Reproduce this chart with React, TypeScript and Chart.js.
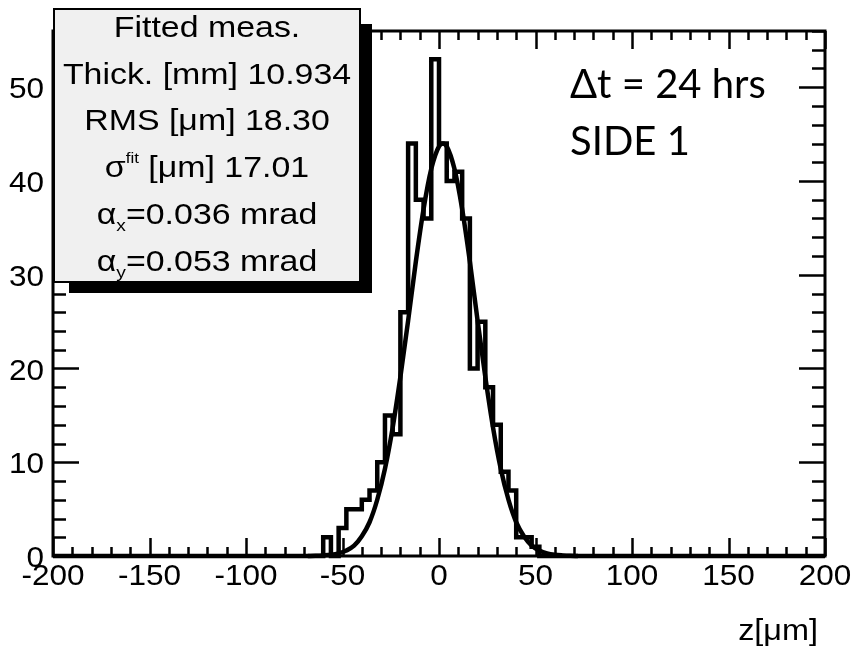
import React, { useEffect, useRef } from 'react';
import { Chart, registerables } from 'chart.js';

Chart.register(...registerables);

// ---- data ----
const xRange = [-200, 200];
const yRange = [0, 56];
const xTickLabels = ['-200', '-150', '-100', '-50', '0', '50', '100', '150', '200'];
const yTickLabels = ['0', '10', '20', '30', '40', '50'];

// histogram bin lower edges (last entry = upper edge of last bin) and counts
const binEdges = [-72, -68, -64, -60, -56, -52, -48, -44, -40, -36, -32, -28, -24, -20, -16, -12, -8, -4,
  0, 4, 8, 12, 16, 20, 24, 28, 32, 36, 40, 44, 48, 52, 56];
const binCounts = [0, 0, 0, 2, 0, 3, 5, 5, 6, 7, 10, 15, 13, 26, 44, 38, 36, 53,
  44, 40, 41, 36, 20, 25, 18, 14, 9, 7, 2, 2, 1, 0];

// fitted curve
const fitX = [-68, -64, -60, -56, -52, -48, -44, -40, -36, -32, -28, -24, -20, -16, -12, -8, -4, 0, 2,
  4, 8, 12, 16, 20, 24, 28, 32, 36, 40, 44, 48, 52, 56, 60, 64, 68, 72];
const fitY = [0.01, 0.02, 0.06, 0.13, 0.28, 0.58, 1.1, 2.1, 3.6, 6.0, 9.3, 13.7, 19.1, 25.1, 31.4, 37.0, 41.3, 43.7, 44.0,
  43.7, 41.3, 37.0, 31.4, 25.1, 19.1, 13.7, 9.3, 6.0, 3.6, 2.1, 1.1, 0.58, 0.28, 0.13, 0.06, 0.02, 0.01];

const statTitle = 'Fitted meas.';
const statThick = 'Thick. [mm] 10.934';
const statRms = 'RMS [μm] 18.30';
const statSigma = ['σ', 'fit', ' [μm] 17.01'];
const statAlphaX = ['α', 'x', '=0.036 mrad'];
const statAlphaY = ['α', 'y', '=0.053 mrad'];
const overlayLines = ['Δt = 24 hrs', 'SIDE 1'];
const xTitle = 'z[μm]';

const ROOT_FONT = '"Liberation Sans", Arial, Helvetica, sans-serif';

function drawScaled(ctx: CanvasRenderingContext2D, text: string, x: number, y: number, align: CanvasTextAlign, sx: number) {
  ctx.save();
  ctx.translate(x, y);
  ctx.scale(sx, 1);
  ctx.textAlign = align;
  ctx.fillText(text, 0, 0);
  ctx.restore();
}

type Seg = { t: string; size: number; dy: number };
function drawRich(ctx: CanvasRenderingContext2D, segs: Seg[], cx: number, y: number, sx: number) {
  let total = 0;
  const widths = segs.map((s) => {
    ctx.font = `${s.size}px ${ROOT_FONT}`;
    const w = ctx.measureText(s.t).width * sx;
    total += w;
    return w;
  });
  let px = cx - total / 2;
  segs.forEach((s, i) => {
    ctx.font = `${s.size}px ${ROOT_FONT}`;
    drawScaled(ctx, s.t, px, y + s.dy, 'left', sx);
    px += widths[i];
  });
}

const rootPlugin = {
  id: 'rootStyle',
  afterDraw(chart: any) {
    const ctx: CanvasRenderingContext2D = chart.ctx;
    const a = chart.chartArea;
    const xs = chart.scales.x;
    const ys = chart.scales.y;
    ctx.save();
    ctx.strokeStyle = '#000';
    ctx.fillStyle = '#000';

    // frame
    ctx.lineWidth = 3;
    ctx.strokeRect(a.left, a.top, a.right - a.left, a.bottom - a.top);

    // ticks
    ctx.lineWidth = 2.5;
    ctx.beginPath();
    for (let v = xRange[0]; v <= xRange[1]; v += 10) {
      const px = Math.round(xs.getPixelForValue(v)) + 0.5;
      const len = v % 50 === 0 ? 18 : 9;
      ctx.moveTo(px, a.bottom); ctx.lineTo(px, a.bottom - len);
      ctx.moveTo(px, a.top); ctx.lineTo(px, a.top + len);
    }
    for (let v = yRange[0]; v <= yRange[1]; v += 2) {
      const py = Math.round(ys.getPixelForValue(v)) + 0.5;
      const len = v % 10 === 0 ? 26 : 13;
      ctx.moveTo(a.left, py); ctx.lineTo(a.left + len, py);
      ctx.moveTo(a.right, py); ctx.lineTo(a.right - len, py);
    }
    ctx.stroke();

    // tick labels
    ctx.font = `30px ${ROOT_FONT}`;
    ctx.textBaseline = 'alphabetic';
    xTickLabels.forEach((lab) => {
      const px = xs.getPixelForValue(Number(lab));
      drawScaled(ctx, lab, px, a.bottom + 29, 'center', 1.05);
    });
    yTickLabels.forEach((lab) => {
      const py = ys.getPixelForValue(Number(lab));
      drawScaled(ctx, lab, a.left - 9, py + 11, 'right', 1.05);
    });
    // axis title
    drawScaled(ctx, xTitle, a.right - 7, 640, 'right', 1.08);

    // stat box with shadow
    const bx = a.left, by = 8, bw = 308, bh = 275;
    ctx.fillStyle = '#000';
    ctx.fillRect(bx + 16, by + 16, bw - 5, bh - 6);
    ctx.fillStyle = '#f0f0f0';
    ctx.fillRect(bx, by, bw, bh);
    ctx.lineWidth = 2;
    ctx.strokeStyle = '#000';
    ctx.strokeRect(bx + 1, by + 1, bw - 2, bh - 2);
    ctx.fillStyle = '#000';
    const cx = bx + bw / 2;
    const sx = 1.13;
    ctx.font = `30px ${ROOT_FONT}`;
    drawScaled(ctx, statTitle, cx, 37, 'center', sx);
    drawScaled(ctx, statThick, cx, 84, 'center', sx);
    drawScaled(ctx, statRms, cx, 130, 'center', sx);
    drawRich(ctx, [
      { t: statSigma[0], size: 30, dy: 0 },
      { t: statSigma[1], size: 15, dy: -14 },
      { t: statSigma[2], size: 30, dy: 0 },
    ], cx, 177, sx);
    drawRich(ctx, [
      { t: statAlphaX[0], size: 30, dy: 0 },
      { t: statAlphaX[1], size: 17, dy: 7 },
      { t: statAlphaX[2], size: 30, dy: 0 },
    ], cx, 224, sx);
    drawRich(ctx, [
      { t: statAlphaY[0], size: 30, dy: 0 },
      { t: statAlphaY[1], size: 17, dy: 7 },
      { t: statAlphaY[2], size: 30, dy: 0 },
    ], cx, 271, sx);

    // overlay annotation
    ctx.font = '40px Lato, "Open Sans", sans-serif';
    ctx.textAlign = 'left';
    ctx.fillText(overlayLines[0], 570, 98);
    ctx.fillText(overlayLines[1], 570, 155);
    ctx.restore();
  },
};

export default function App() {
  const canvasRef = useRef<HTMLCanvasElement | null>(null);

  useEffect(() => {
    if (!canvasRef.current) return;
    const histPoints = [{ x: xRange[0], y: 0 }];
    for (let i = 0; i < binCounts.length; i++) histPoints.push({ x: binEdges[i], y: binCounts[i] });
    histPoints.push({ x: binEdges[binEdges.length - 1], y: 0 });
    histPoints.push({ x: xRange[1], y: 0 });
    const fitPoints = fitX.map((x, i) => ({ x, y: fitY[i] }));

    const chart = new Chart(canvasRef.current, {
      type: 'line',
      data: {
        datasets: [
          {
            label: 'hist',
            data: histPoints,
            stepped: true,
            borderColor: '#000',
            borderWidth: 4.5,
            borderJoinStyle: 'miter',
            borderCapStyle: 'butt',
            pointRadius: 0,
            fill: false,
            clip: false,
          } as any,
          {
            label: 'fit',
            data: fitPoints,
            borderColor: '#000',
            borderWidth: 4.5,
            cubicInterpolationMode: 'monotone',
            pointRadius: 0,
            fill: false,
            clip: false,
          } as any,
        ],
      },
      options: {
        animation: false,
        responsive: true,
        maintainAspectRatio: false,
        events: [],
        layout: { padding: { left: 53, top: 31, right: 27, bottom: 92 } },
        scales: {
          x: { type: 'linear', min: xRange[0], max: xRange[1], display: false },
          y: { type: 'linear', min: yRange[0], max: yRange[1], display: false },
        },
        plugins: { legend: { display: false }, tooltip: { enabled: false } },
      },
      plugins: [rootPlugin],
    });
    return () => chart.destroy();
  }, []);

  return (
    <div style={{ position: 'fixed', left: 0, top: 0, width: 852, height: 648, background: '#fff' }}>
      <canvas ref={canvasRef} />
    </div>
  );
}
